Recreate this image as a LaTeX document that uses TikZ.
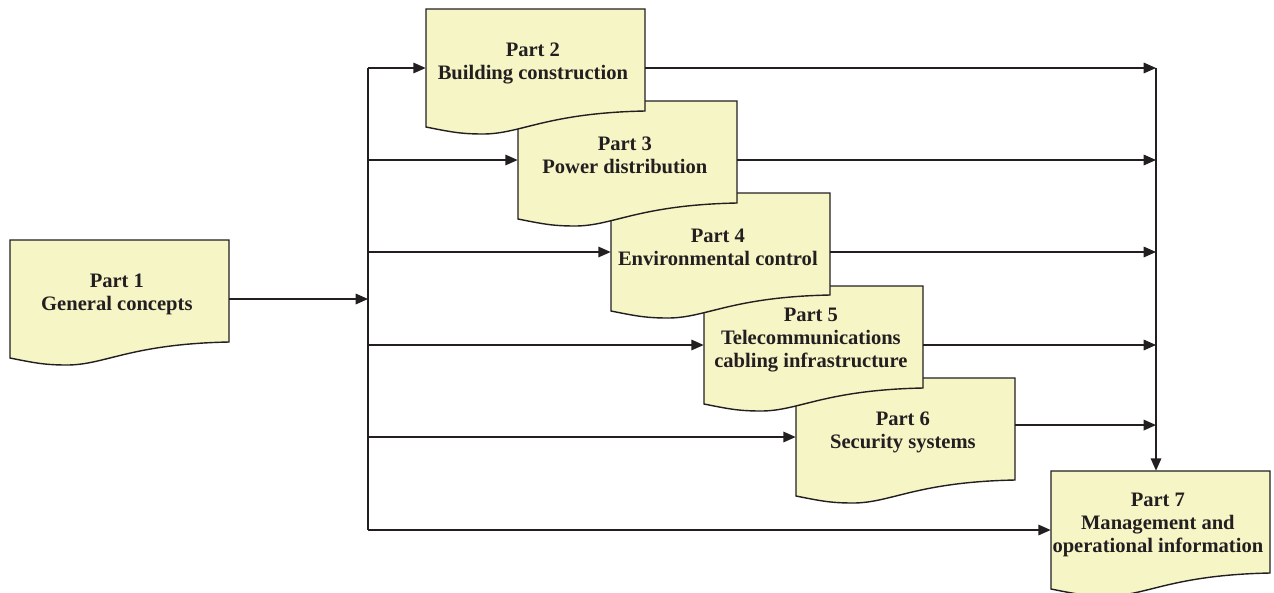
\documentclass[tikz,border=0pt]{standalone}
\usepackage{fontspec}
\setmainfont{Liberation Serif}
\usepackage{tikz}
\usetikzlibrary{arrows.meta,positioning}

\definecolor{docyellow}{RGB}{246,245,198}
\definecolor{docline}{RGB}{35,31,32}

\begin{document}
\begin{tikzpicture}[
        x=0.02cm, y=-0.02cm,
        docfill/.style = {fill=docyellow, draw=docline, line width=0.8pt},
        docshape/.pic = {
            \path[docfill] (0,0) -- (219,0) -- (219,102)
                .. controls (120,104) and (95,125) .. (57,125)
                .. controls (35,125) and (25,123) .. (0,118) -- cycle;
        },
        part/.style = {minimum width=4.38cm, minimum height=2.36cm, inner sep=0pt},
        parttext/.style = {align=center, inner sep=0pt, xshift=-1.5pt, yshift=2.8pt,
            font=\bfseries\fontsize{11.7}{13}\selectfont, text=docline},
        arr/.style = {draw=docline, line width=0.8pt, -{Triangle[length=7pt,width=6pt]}},
        ln/.style = {draw=docline, line width=0.8pt},
        ]
        \useasboundingbox (0,0) rectangle (1274,592);
        \clip (0,0) rectangle (1274,592);

        % shapes, lower ones first
        \pic at (796,378) {docshape};
        \pic at (704,286) {docshape};
        \pic at (611,193) {docshape};
        \pic at (518,101) {docshape};
        \pic at (426,9) {docshape};
        \pic at (10,240) {docshape};
        \pic at (1051,471) {docshape};

        \node[part](p1) at (119.5,299) [label={[parttext]center:Part 1\\General concepts}] {};
        \node[part](p2) at (535.5,68) [label={[parttext]center:Part 2\\Building construction}] {};
        \node[part](p3) at (627.5,160) [label={[parttext]center:Part 3\\Power distribution}] {};
        \node[part](p4) at (720.5,252) [label={[parttext]center:Part 4\\Environmental control}] {};
        \node[part](p5) at (813.5,345) [label={[parttext]center:Part 5\\Telecommunications\\cabling infrastructure}] {};
        \node[part](p6) at (905.5,437) [label={[parttext]center:Part 6\\Security systems}] {};
        \node[part](p7) at (1160.5,530) [label={[parttext]center:Part 7\\Management and\\operational information}] {};

        \coordinate (split) at (368,299);
        \coordinate (merge) at (1156,68);
        \coordinate (p6out) at ([yshift=6.8pt]p6.east);

        % left side
        \draw[arr] (p1.east) -- (split);
        \draw[ln] (split |- p2.west) -- (split |- p7.west);
        \draw[arr] (split |- p2.west) -- (p2.west);
        \draw[arr] (split |- p3.west) -- (p3.west);
        \draw[arr] (split |- p4.west) -- (p4.west);
        \draw[arr] (split |- p5.west) -- (p5.west);
        \draw[arr] (split |- p6.west) -- (p6.west);
        \draw[arr] (split |- p7.west) -- (p7.west);

        % right side
        \draw[arr] (p2.east) -- (merge |- p2.east);
        \draw[arr] (p3.east) -- (merge |- p3.east);
        \draw[arr] (p4.east) -- (merge |- p4.east);
        \draw[arr] (p5.east) -- (merge |- p5.east);
        \draw[arr] (p6out) -- (merge |- p6out);
        \draw[arr] (merge) -- (merge |- p7.north);
\end{tikzpicture}
\end{document}
